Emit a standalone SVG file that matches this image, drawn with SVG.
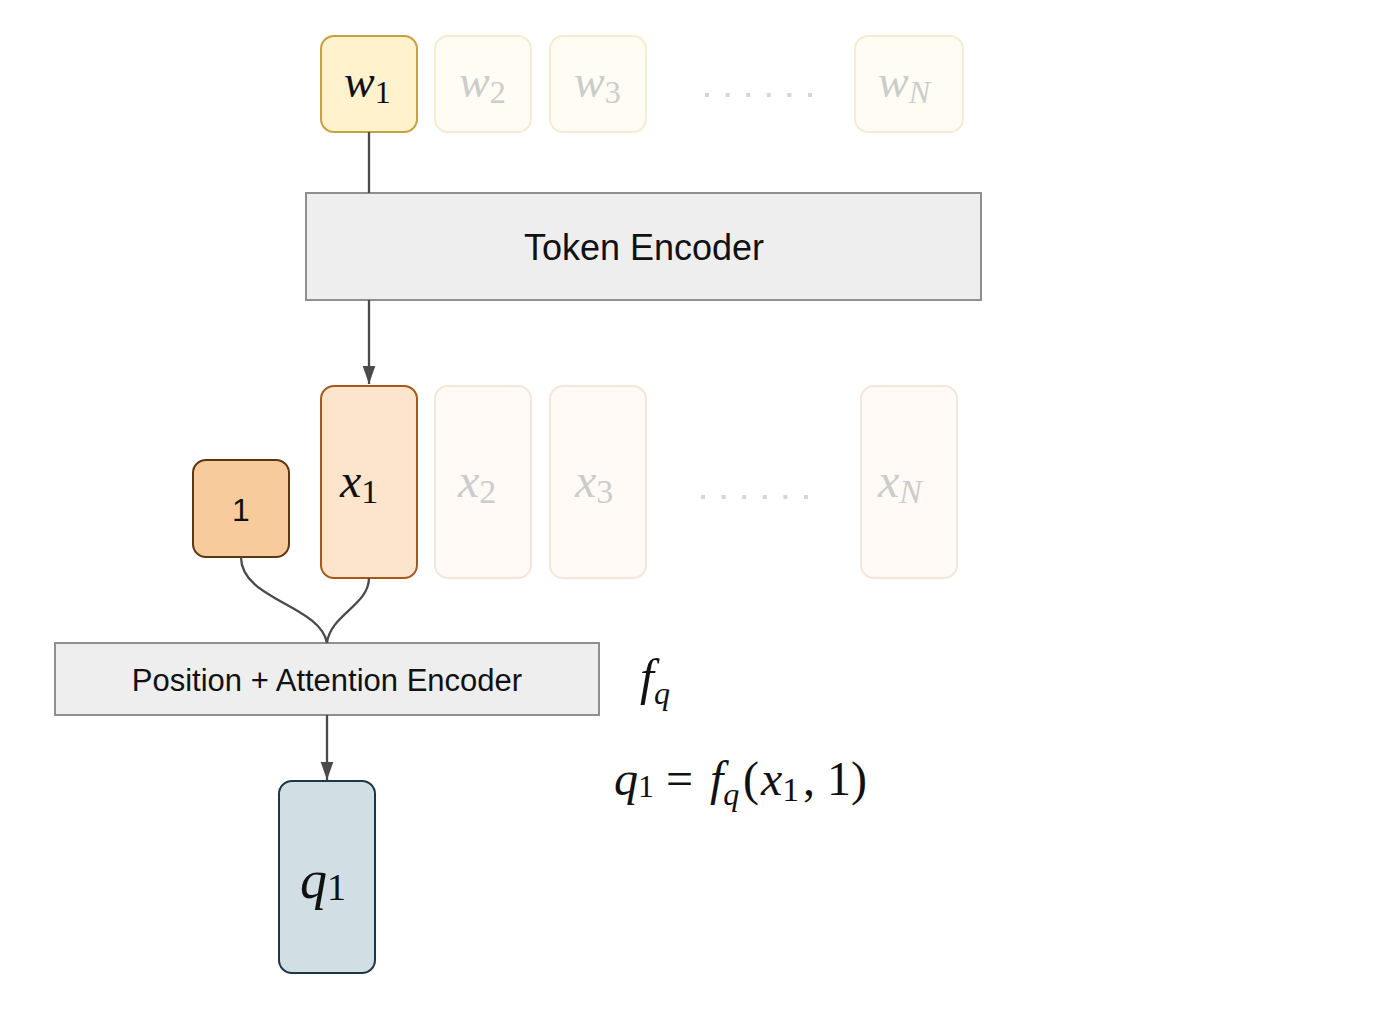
<svg xmlns="http://www.w3.org/2000/svg" width="1400" height="1010" viewBox="0 0 1400 1010">
<style>
.math{font-family:"Liberation Serif","DejaVu Serif",serif;font-style:italic;}
.sub{font-family:"Liberation Serif","DejaVu Serif",serif;font-style:normal;}
.sans{font-family:"Liberation Sans",Arial,sans-serif;fill:#111;}
.wbox{fill:#fff2cc;stroke:#c9a13c;stroke-width:2;}
.wfade{fill:#fffcf3;stroke:#f6ecd3;stroke-width:2;}
.xbox{fill:#fce5cc;stroke:#a9581a;stroke-width:2;}
.xfade{fill:#fffaf5;stroke:#f6e6da;stroke-width:2;}
.enc{fill:#eeeeee;stroke:#8f8f8f;stroke-width:2;}
.conn{fill:none;stroke:#4a4a4a;stroke-width:2.3;}
.faded{fill:#cccccc;}
.dots{fill:none;stroke:#d6d6d6;stroke-width:4;stroke-dasharray:4 16.6;}
</style>
<defs>
<marker id="arr2" viewBox="0 0 10 10" refX="10" refY="5" markerWidth="18" markerHeight="18" markerUnits="userSpaceOnUse" orient="auto">
<path d="M0,1.5 L10,5 L0,8.5 Z" fill="#4a4a4a"/>
</marker>
</defs>
<rect width="1400" height="1010" fill="#ffffff"/>

<g id="w1"><rect class="wbox" x="321" y="36" width="96" height="96" rx="13"/><text class="math" x="344" y="97" font-size="46" fill="#111">w<tspan class="sub" font-size="32" dy="6">1</tspan></text></g>
<g id="w2"><rect class="wfade" x="435" y="36" width="96" height="96" rx="13"/><text class="math faded" x="459" y="97" font-size="46">w<tspan class="sub" font-size="32" dy="6">2</tspan></text></g>
<g id="w3"><rect class="wfade" x="550" y="36" width="96" height="96" rx="13"/><text class="math faded" x="574" y="97" font-size="46">w<tspan class="sub" font-size="32" dy="6">3</tspan></text></g>
<g id="wdots"><line class="dots" x1="705" y1="95" x2="812" y2="95"/></g>
<g id="wN"><rect class="wfade" x="855" y="36" width="108" height="96" rx="13"/><text class="math faded" x="878" y="97" font-size="46">w<tspan font-size="32" dy="6">N</tspan></text></g>

<g id="token-encoder"><rect class="enc" x="306" y="193" width="675" height="107"/><text class="sans" x="644" y="260" font-size="36" text-anchor="middle">Token Encoder</text></g>

<g id="one"><rect x="193" y="460" width="96" height="97" rx="13" fill="#f8cb9c" stroke="#5e3710" stroke-width="2"/><text class="sans" x="241" y="521" font-size="32" text-anchor="middle" fill="#333">1</text></g>
<g id="x1"><rect class="xbox" x="321" y="386" width="96" height="192" rx="13"/><text class="math" x="340" y="497" font-size="48" fill="#111">x<tspan class="sub" font-size="34" dy="6">1</tspan></text></g>
<g id="x2"><rect class="xfade" x="435" y="386" width="96" height="192" rx="13"/><text class="math faded" x="458" y="497" font-size="48">x<tspan class="sub" font-size="34" dy="6">2</tspan></text></g>
<g id="x3"><rect class="xfade" x="550" y="386" width="96" height="192" rx="13"/><text class="math faded" x="575" y="497" font-size="48">x<tspan class="sub" font-size="34" dy="6">3</tspan></text></g>
<g id="xdots"><line class="dots" x1="701" y1="497" x2="808" y2="497"/></g>
<g id="xN"><rect class="xfade" x="861" y="386" width="96" height="192" rx="13"/><text class="math faded" x="878" y="497" font-size="48">x<tspan font-size="34" dy="6">N</tspan></text></g>

<g id="pos-encoder"><rect class="enc" x="55" y="643" width="544" height="72"/><text class="sans" x="327" y="691" font-size="31" text-anchor="middle">Position + Attention Encoder</text></g>

<g id="q1"><rect x="279" y="781" width="96" height="192" rx="13" fill="#d1dfe5" stroke="#1e3646" stroke-width="2"/><text class="math" x="300" y="898" font-size="54" fill="#111">q<tspan class="sub" font-size="38" dy="2">1</tspan></text></g>

<g id="labels">
<text class="math" x="640" y="694" font-size="50" fill="#111">f<tspan font-size="32" dy="10">q</tspan></text>
<text class="math" font-size="48" fill="#111"><tspan x="614" y="795">q</tspan><tspan class="sub" font-size="32" dy="2">1</tspan><tspan class="sub" x="666" y="795">=</tspan><tspan x="710" y="795">f</tspan><tspan font-size="32" dy="10">q</tspan><tspan class="sub" x="743" y="795">(</tspan><tspan x="761" y="795">x</tspan><tspan class="sub" font-size="34" dy="6">1</tspan><tspan class="sub" x="803" y="795">, 1)</tspan></text>
</g>

<g id="connectors">
<path class="conn" d="M369,132 L369,193"/>
<path class="conn" d="M369,300 L369,384" marker-end="url(#arr2)"/>
<path class="conn" d="M241,557 C241,600 320,605 327,643"/>
<path class="conn" d="M369,578 C369,605 330,615 327,643"/>
<path class="conn" d="M327,715 L327,780" marker-end="url(#arr2)"/>
</g>
</svg>
